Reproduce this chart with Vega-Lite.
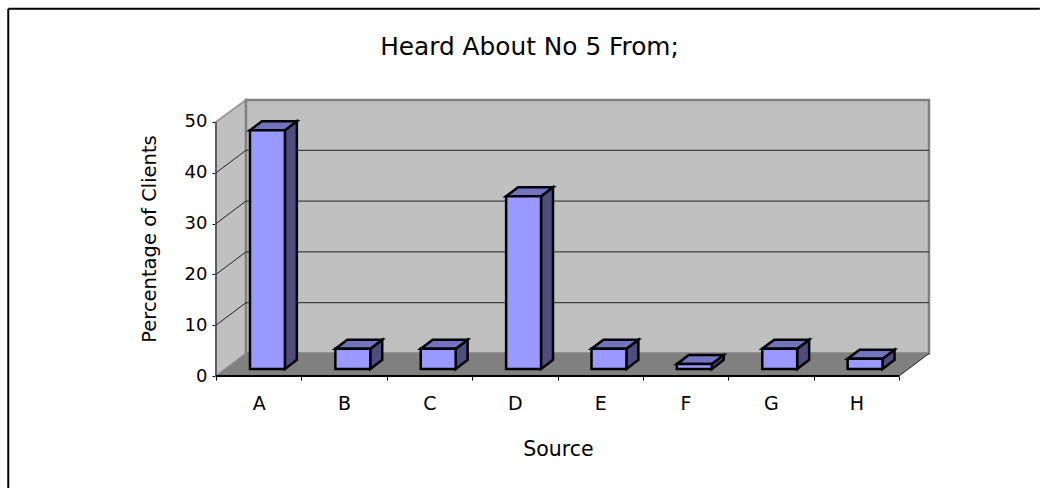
{"$schema":"https://vega.github.io/schema/vega-lite/v6.json","width":713,"height":276,"padding":{"left":216,"top":100,"right":112,"bottom":112},"autosize":{"type":"none"},"background":"#ffffff","config":{"view":{"stroke":null},"font":"DejaVu Sans"},"title":{"text":"Heard About No 5 From;","font":"DejaVu Sans","fontSize":24.8,"fontWeight":"normal","color":"#000000","anchor":"middle","dx":-43,"offset":-52},"datasets":{"bars":[{"source":"A","pct":47,"left":0.398,"right":0.807,"base":1.38,"top":48.38},{"source":"B","pct":4,"left":1.398,"right":1.807,"base":1.38,"top":5.38},{"source":"C","pct":4,"left":2.398,"right":2.807,"base":1.38,"top":5.38},{"source":"D","pct":34,"left":3.398,"right":3.807,"base":1.38,"top":35.38},{"source":"E","pct":4,"left":4.398,"right":4.807,"base":1.38,"top":5.38},{"source":"F","pct":1,"left":5.398,"right":5.807,"base":1.38,"top":2.38},{"source":"G","pct":4,"left":6.398,"right":6.807,"base":1.38,"top":5.38},{"source":"H","pct":2,"left":7.398,"right":7.807,"base":1.38,"top":3.38}],"sides":[{"source":"A","x":0.807,"y":48.38,"y2":1.38},{"source":"A","x":0.947,"y":50.15,"y2":3.15},{"source":"B","x":1.807,"y":5.38,"y2":1.38},{"source":"B","x":1.947,"y":7.15,"y2":3.15},{"source":"C","x":2.807,"y":5.38,"y2":1.38},{"source":"C","x":2.947,"y":7.15,"y2":3.15},{"source":"D","x":3.807,"y":35.38,"y2":1.38},{"source":"D","x":3.947,"y":37.15,"y2":3.15},{"source":"E","x":4.807,"y":5.38,"y2":1.38},{"source":"E","x":4.947,"y":7.15,"y2":3.15},{"source":"F","x":5.807,"y":2.38,"y2":1.38},{"source":"F","x":5.947,"y":4.15,"y2":3.15},{"source":"G","x":6.807,"y":5.38,"y2":1.38},{"source":"G","x":6.947,"y":7.15,"y2":3.15},{"source":"H","x":7.807,"y":3.38,"y2":1.38},{"source":"H","x":7.947,"y":5.15,"y2":3.15}],"tops":[{"source":"A","x":0.398,"y":48.38,"y2":48.38},{"source":"A","x":0.538,"y":50.15,"y2":48.38},{"source":"A","x":0.807,"y":50.15,"y2":48.38},{"source":"A","x":0.947,"y":50.15,"y2":50.15},{"source":"B","x":1.398,"y":5.38,"y2":5.38},{"source":"B","x":1.538,"y":7.15,"y2":5.38},{"source":"B","x":1.807,"y":7.15,"y2":5.38},{"source":"B","x":1.947,"y":7.15,"y2":7.15},{"source":"C","x":2.398,"y":5.38,"y2":5.38},{"source":"C","x":2.538,"y":7.15,"y2":5.38},{"source":"C","x":2.807,"y":7.15,"y2":5.38},{"source":"C","x":2.947,"y":7.15,"y2":7.15},{"source":"D","x":3.398,"y":35.38,"y2":35.38},{"source":"D","x":3.538,"y":37.15,"y2":35.38},{"source":"D","x":3.807,"y":37.15,"y2":35.38},{"source":"D","x":3.947,"y":37.15,"y2":37.15},{"source":"E","x":4.398,"y":5.38,"y2":5.38},{"source":"E","x":4.538,"y":7.15,"y2":5.38},{"source":"E","x":4.807,"y":7.15,"y2":5.38},{"source":"E","x":4.947,"y":7.15,"y2":7.15},{"source":"F","x":5.398,"y":2.38,"y2":2.38},{"source":"F","x":5.538,"y":4.15,"y2":2.38},{"source":"F","x":5.807,"y":4.15,"y2":2.38},{"source":"F","x":5.947,"y":4.15,"y2":4.15},{"source":"G","x":6.398,"y":5.38,"y2":5.38},{"source":"G","x":6.538,"y":7.15,"y2":5.38},{"source":"G","x":6.807,"y":7.15,"y2":5.38},{"source":"G","x":6.947,"y":7.15,"y2":7.15},{"source":"H","x":7.398,"y":3.38,"y2":3.38},{"source":"H","x":7.538,"y":5.15,"y2":3.38},{"source":"H","x":7.807,"y":5.15,"y2":3.38},{"source":"H","x":7.947,"y":5.15,"y2":5.15}],"sideWall":[{"x":0,"y":50,"y2":0},{"x":0.351,"y":54.33,"y2":4.43}],"backWall":[{"x":0.351,"y":54.33,"y2":4.43},{"x":8.351,"y":54.33,"y2":4.43}],"floor":[{"x":0,"y":0,"y2":0},{"x":0.351,"y":4.43,"y2":0},{"x":8,"y":4.43,"y2":0},{"x":8.351,"y":4.43,"y2":4.43}],"lines":[{"x":0,"x2":0.351,"y":10,"y2":14.43},{"x":0.351,"x2":8.351,"y":14.43,"y2":14.43},{"x":0,"x2":0.351,"y":20,"y2":24.43},{"x":0.351,"x2":8.351,"y":24.43,"y2":24.43},{"x":0,"x2":0.351,"y":30,"y2":34.43},{"x":0.351,"x2":8.351,"y":34.43,"y2":34.43},{"x":0,"x2":0.351,"y":40,"y2":44.43},{"x":0.351,"x2":8.351,"y":44.43,"y2":44.43},{"x":0,"x2":0,"y":0,"y2":50},{"x":8,"x2":8.351,"y":0,"y2":4.43}],"baseline":[{"x":0,"x2":8,"y":0,"y2":0}],"frame":[{"x":-2.433,"x2":9.649,"y":72.3,"y2":72.3},{"x":-2.433,"x2":-2.433,"y":72.3,"y2":-22.05}]},"layer":[{"data":{"name":"sideWall"},"mark":{"type":"area","fill":"#c0c0c0","stroke":"#999999","strokeWidth":2},"encoding":{"x":{"field":"x","type":"quantitative","scale":{"domain":[0,8.351],"nice":false,"zero":false},"axis":{"values":[0,0.5,1,1.5,2,2.5,3,3.5,4,4.5,5,5.5,6,6.5,7,7.5,8],"labelExpr":"datum.value % 1 != 0 ? ['A','B','C','D','E','F','G','H'][floor(datum.value)] : ''","labelOverlap":false,"labelFlush":false,"labelFontSize":19,"labelFont":"DejaVu Sans","labelColor":"#000000","labelPadding":14,"tickColor":"#000000","tickSize":4,"tickOpacity":{"condition":{"test":"datum.value % 1 != 0","value":0},"value":1},"domain":false,"grid":false,"title":"Source","titleFont":"DejaVu Sans","titleFontSize":20.5,"titleFontWeight":"normal","titleColor":"#000000","titleX":342,"titleY":63}},"y":{"field":"y","type":"quantitative","scale":{"domain":[0,54.33],"nice":false,"zero":false},"axis":{"values":[0,10,20,30,40,50],"labelFontSize":18,"labelFont":"DejaVu Sans","labelColor":"#000000","labelPadding":5,"tickColor":"#000000","tickSize":4,"domain":false,"grid":false,"title":"Percentage of Clients","titleFont":"DejaVu Sans","titleFontSize":19.5,"titleFontWeight":"normal","titleColor":"#000000","titleX":-57,"titleY":138.5}},"y2":{"field":"y2"}}},{"data":{"name":"backWall"},"mark":{"type":"area","fill":"#c0c0c0","stroke":"#808080","strokeWidth":2.5},"encoding":{"x":{"field":"x","type":"quantitative"},"y":{"field":"y","type":"quantitative"},"y2":{"field":"y2"}}},{"data":{"name":"floor"},"mark":{"type":"area","fill":"#808080"},"encoding":{"x":{"field":"x","type":"quantitative"},"y":{"field":"y","type":"quantitative"},"y2":{"field":"y2"}}},{"data":{"name":"lines"},"mark":{"type":"rule","color":"#222222","strokeWidth":1},"encoding":{"x":{"field":"x","type":"quantitative"},"x2":{"field":"x2"},"y":{"field":"y","type":"quantitative"},"y2":{"field":"y2"}}},{"data":{"name":"baseline"},"mark":{"type":"rule","color":"#000000","strokeWidth":2},"encoding":{"x":{"field":"x","type":"quantitative"},"x2":{"field":"x2"},"y":{"field":"y","type":"quantitative"},"y2":{"field":"y2"}}},{"data":{"name":"frame"},"mark":{"type":"rule","color":"#000000","strokeWidth":2},"encoding":{"x":{"field":"x","type":"quantitative"},"x2":{"field":"x2"},"y":{"field":"y","type":"quantitative"},"y2":{"field":"y2"}}},{"data":{"name":"sides"},"mark":{"type":"area","fill":"#4d4d80","stroke":"#000000","strokeWidth":2.5,"strokeJoin":"miter"},"encoding":{"detail":{"field":"source"},"x":{"field":"x","type":"quantitative"},"y":{"field":"y","type":"quantitative"},"y2":{"field":"y2"}}},{"data":{"name":"tops"},"mark":{"type":"area","fill":"#7373bf","stroke":"#000000","strokeWidth":2.5,"strokeJoin":"miter"},"encoding":{"detail":{"field":"source"},"x":{"field":"x","type":"quantitative"},"y":{"field":"y","type":"quantitative"},"y2":{"field":"y2"}}},{"data":{"name":"bars"},"mark":{"type":"rect","fill":"#9999ff","stroke":"#000000","strokeWidth":2.5},"encoding":{"x":{"field":"left","type":"quantitative"},"x2":{"field":"right"},"y":{"field":"top","type":"quantitative"},"y2":{"field":"base"}}}]}
